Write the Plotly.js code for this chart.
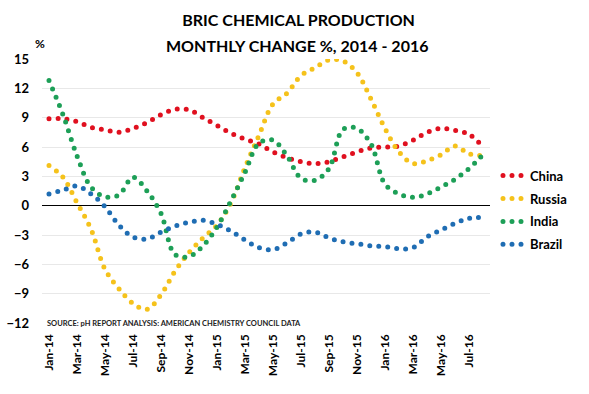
<!DOCTYPE html>
<html>
<head>
<meta charset="utf-8">
<script src="https://cdn.plot.ly/plotly-3.0.1.min.js"></script>
<style>
  html, body { margin: 0; padding: 0; background: #fff; }
  #chart { width: 589px; height: 394px; }
  .scatterlayer path.js-line, .legendlines path { stroke-linecap: round !important; }
  .legendlines path { d: path("M13,0h22"); }
</style>
</head>
<body>
<div id="chart"></div>
<script>
// Monthly categories Jan-14 .. Aug-16
const months = ["Jan-14","Feb-14","Mar-14","Apr-14","May-14","Jun-14","Jul-14","Aug-14","Sep-14","Oct-14","Nov-14","Dec-14",
                "Jan-15","Feb-15","Mar-15","Apr-15","May-15","Jun-15","Jul-15","Aug-15","Sep-15","Oct-15","Nov-15","Dec-15",
                "Jan-16","Feb-16","Mar-16","Apr-16","May-16","Jun-16","Jul-16","Aug-16"];
const tickLabels = ["Jan-14","Mar-14","May-14","Jul-14","Sep-14","Nov-14","Jan-15","Mar-15","May-15","Jul-15",
                    "Sep-15","Nov-15","Jan-16","Mar-16","May-16","Jul-16"];

const seriesNames = ["China","Russia","India","Brazil"];
const china  = [8.9, 8.9, 8.6, 8.0, 7.75, 7.5, 7.9, 8.5, 9.3, 9.85, 9.8, 9.0,
                8.2, 7.4, 6.8, 6.3, 5.5, 4.9, 4.5, 4.3, 4.5, 5.0, 5.5, 5.9,
                6.0, 6.1, 6.7, 7.5, 7.9, 7.7, 7.3, 6.0];
const russia = [4.1, 2.9, 0.3, -2.4, -6.5, -8.5, -10.0, -10.6, -9.1, -6.7, -4.8, -3.3,
                -2.0, 0.3, 3.9, 7.2, 10.4, 11.5, 13.3, 14.1, 14.9, 14.8, 13.6, 10.9,
                7.9, 5.5, 4.3, 4.6, 5.2, 6.1, 5.3, 5.1];
const india  = [12.8, 9.3, 5.1, 1.9, 0.9, 1.1, 2.9, 1.5, -0.8, -5.0, -5.2, -4.1,
                -2.2, 0.5, 3.4, 6.4, 6.7, 5.1, 2.8, 2.6, 3.8, 7.8, 7.9, 6.3,
                2.2, 1.2, 0.85, 1.2, 1.9, 2.7, 3.8, 5.2];
const brazil = [1.2, 1.6, 2.0, 1.2, -0.1, -2.0, -3.2, -3.4, -2.7, -2.1, -1.7, -1.5,
                -1.9, -2.6, -3.5, -4.3, -4.5, -3.8, -2.9, -2.7, -3.3, -3.7, -3.9, -4.1,
                -4.2, -4.4, -4.3, -3.2, -2.5, -1.8, -1.3, -1.2];
const colors = ["#e0101f", "#f5c21b", "#1d9f57", "#1f6db3"];

const FONT = "Lato, 'Open Sans', Arial, sans-serif";
const allSeries = [china, russia, india, brazil];

const traces = allSeries.map((vals, i) => ({
  type: "scatter",
  mode: "lines",
  name: "<b>" + seriesNames[i] + "</b>",
  legendgroup: seriesNames[i],
  x: months,
  y: vals,
  line: { color: colors[i], width: 5, shape: "spline", smoothing: 1, dash: "0px,9px" },
  hoverinfo: "skip"
}));

const layout = {
  width: 589,
  height: 394,
  paper_bgcolor: "#ffffff",
  plot_bgcolor: "#ffffff",
  margin: { l: 42, r: 99, t: 59, b: 71, pad: 0 },
  font: { family: FONT, color: "#000000", size: 12 },
  title: {
    text: "<b>BRIC CHEMICAL PRODUCTION</b>",
    font: { family: FONT, size: 16, color: "#000000" },
    x: 0.507, xanchor: "center",
    yref: "container", y: 1 - 20 / 394, yanchor: "middle"
  },
  showlegend: true,
  legend: {
    x: 1.0, xanchor: "left",
    y: 0.615, yanchor: "top",
    font: { family: FONT, size: 13, color: "#000000" },
    tracegroupgap: 3,
    itemwidth: 30,
    bgcolor: "rgba(0,0,0,0)"
  },
  xaxis: {
    type: "category",
    range: [-0.5, months.length - 0.5],
    tickvals: tickLabels,
    ticktext: tickLabels,
    tickangle: -90,
    tickfont: { family: FONT, size: 12, color: "#000000", weight: "bold" },
    showgrid: false,
    zeroline: false,
    showline: false,
    ticks: "",
    ticklabelstandoff: 8
  },
  yaxis: {
    range: [-12, 15],
    tickvals: [-12, -9, -6, -3, 0, 3, 6, 9, 12, 15],
    tickfont: { family: FONT, size: 13, color: "#000000", weight: "bold" },
    showgrid: true,
    gridcolor: "#e8e8e8",
    gridwidth: 1,
    zeroline: true,
    zerolinecolor: "#000000",
    zerolinewidth: 1.5,
    showline: false,
    ticks: "",
    ticklabelstandoff: 12
  },
  annotations: [
    {
      text: "<b>MONTHLY CHANGE %, 2014 - 2016</b>", xref: "paper", yref: "paper",
      x: 0.57, y: 1 + (59 - 45) / 264, xanchor: "center", yanchor: "middle",
      showarrow: false, font: { family: FONT, size: 16, color: "#000000" }
    },
    {
      text: "<b>%</b>", xref: "paper", yref: "paper",
      x: -0.005, y: 1 + (59 - 43) / 264, xanchor: "center", yanchor: "middle",
      showarrow: false, font: { family: FONT, size: 12, color: "#000000" }
    },
    {
      text: "<b>SOURCE: pH REPORT ANALYSIS: AMERICAN CHEMISTRY COUNCIL DATA</b>",
      xref: "paper", yref: "paper",
      x: 0.006, y: 0.0, xanchor: "left", yanchor: "middle",
      showarrow: false, font: { family: FONT, size: 7.5, color: "#222222" }
    }
  ]
};

Plotly.newPlot("chart", traces, layout, { displayModeBar: false, staticPlot: true });
</script>
</body>
</html>
